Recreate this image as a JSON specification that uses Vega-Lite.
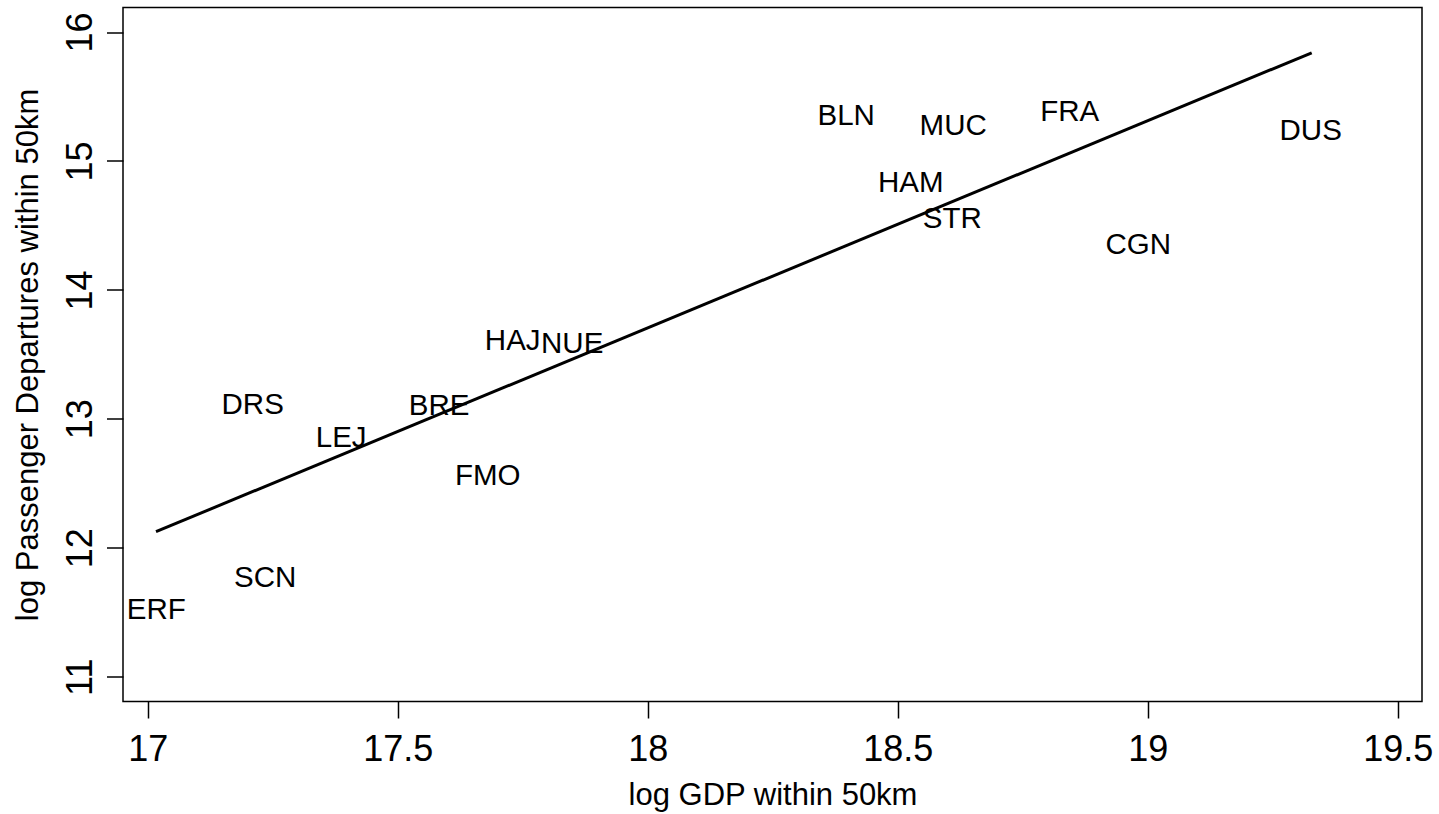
{
  "$schema": "https://vega.github.io/schema/vega-lite/v6.json",
  "autosize": {"type": "none"},
  "padding": {"left": 123, "top": 7.5, "right": 17, "bottom": 113},
  "width": 1299,
  "height": 694,
  "background": "white",
  "config": {
    "view": {"stroke": "black", "strokeWidth": 1.5},
    "font": "Liberation Sans",
    "axis": {
      "grid": false,
      "domain": false,
      "tickColor": "black",
      "tickWidth": 1.5,
      "tickSize": 16.5,
      "labelColor": "black",
      "titleColor": "black",
      "labelFont": "Liberation Sans",
      "titleFont": "Liberation Sans",
      "labelFontSize": 36,
      "titleFontSize": 31,
      "titleFontWeight": "normal"
    }
  },
  "datasets": {
    "airports": [
      {"code": "ERF", "gdp": 17.017, "dep": 11.517},
      {"code": "SCN", "gdp": 17.235, "dep": 11.765},
      {"code": "DRS", "gdp": 17.210, "dep": 13.107},
      {"code": "LEJ", "gdp": 17.387, "dep": 12.855},
      {"code": "BRE", "gdp": 17.583, "dep": 13.103},
      {"code": "FMO", "gdp": 17.680, "dep": 12.557},
      {"code": "HAJ", "gdp": 17.730, "dep": 13.600},
      {"code": "NUE", "gdp": 17.849, "dep": 13.580},
      {"code": "BLN", "gdp": 18.397, "dep": 15.349},
      {"code": "HAM", "gdp": 18.526, "dep": 14.829},
      {"code": "MUC", "gdp": 18.611, "dep": 15.271},
      {"code": "STR", "gdp": 18.609, "dep": 14.550},
      {"code": "FRA", "gdp": 18.844, "dep": 15.376},
      {"code": "CGN", "gdp": 18.981, "dep": 14.352},
      {"code": "DUS", "gdp": 19.326, "dep": 15.230}
    ],
    "fit": [
      {"gdp": 17.0166, "dep": 12.125},
      {"gdp": 19.328, "dep": 15.839}
    ]
  },
  "encoding": {
    "x": {
      "field": "gdp",
      "type": "quantitative",
      "scale": {"domain": [16.9506, 19.5486], "nice": false, "zero": false},
      "axis": {
        "title": "log GDP within 50km",
        "values": [17, 17.5, 18, 18.5, 19, 19.5],
        "format": "~g",
        "labelBaseline": "alphabetic",
        "labelPadding": 42,
        "labelFlush": false,
        "labelOverlap": false,
        "titleBaseline": "alphabetic",
        "titleY": 103
      }
    },
    "y": {
      "field": "dep",
      "type": "quantitative",
      "scale": {"domain": [10.808, 16.19], "nice": false, "zero": false},
      "axis": {
        "title": "log Passenger Departures within 50km",
        "values": [11, 12, 13, 14, 15, 16],
        "format": "~g",
        "labelAngle": -90,
        "labelAlign": "center",
        "labelBaseline": "alphabetic",
        "labelPadding": 15,
        "labelFlush": false,
        "labelOverlap": false,
        "titleAngle": -90,
        "titleBaseline": "alphabetic",
        "titleX": -86,
        "titleY": 347
      }
    }
  },
  "layer": [
    {
      "data": {"name": "fit"},
      "mark": {"type": "line", "color": "black", "strokeWidth": 3},
      "encoding": {}
    },
    {
      "data": {"name": "airports"},
      "mark": {"type": "text", "fontSize": 29.5, "font": "Liberation Sans", "color": "black", "align": "center", "baseline": "middle"},
      "encoding": {"text": {"field": "code", "type": "nominal"}}
    }
  ]
}
